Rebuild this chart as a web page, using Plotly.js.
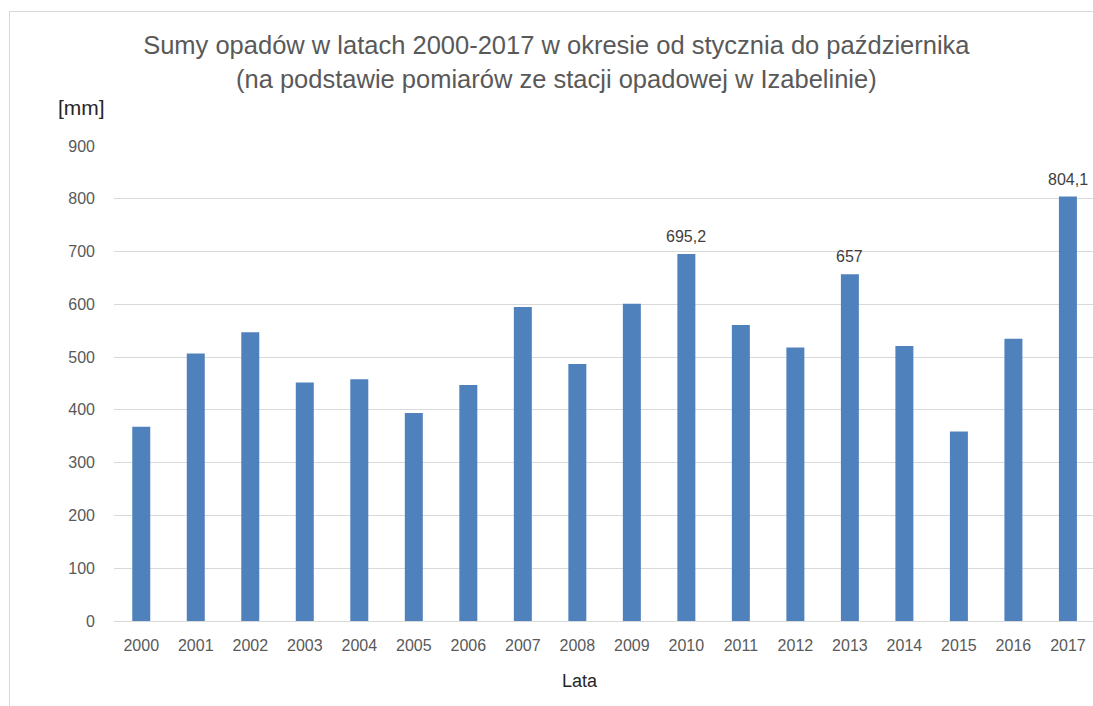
<!DOCTYPE html>
<html>
<head>
<meta charset="utf-8">
<script src="https://cdn.plot.ly/plotly-3.0.1.min.js"></script>
<style>
html,body{margin:0;padding:0;background:#fff;overflow:hidden;}
#chart{position:absolute;left:0;top:0;width:1093px;height:706px;}
#frame{position:absolute;left:9px;top:11px;width:1100px;height:720px;border-left:1px solid #d9d9d9;border-top:1px solid #d9d9d9;pointer-events:none;}
</style>
</head>
<body>
<div id="chart"></div>
<div id="frame"></div>
<script>
const years = ['2000','2001','2002','2003','2004','2005','2006','2007','2008','2009','2010','2011','2012','2013','2014','2015','2016','2017'];
const rainfall = [368, 507, 547, 452, 458, 394, 447, 595, 487, 601, 695.2, 561, 518, 657, 521, 359, 535, 804.1];
const valueLabels = ['', '', '', '', '', '', '', '', '', '', '695,2', '', '', '657', '', '', '', '804,1'];
const yTicks = [0, 100, 200, 300, 400, 500, 600, 700, 800, 900];

const FONT = 'Liberation Sans, Arial, sans-serif';

const trace = {
  type: 'bar',
  x: years,
  y: rainfall,
  marker: {color: '#4f81bd'},
  hoverinfo: 'x+y'
};

const labelAnnotations = [];
years.forEach((yr, i) => {
  if (valueLabels[i]) {
    labelAnnotations.push({
      text: valueLabels[i], x: i, y: rainfall[i], xref: 'x', yref: 'y',
      xanchor: 'center', yanchor: 'bottom', yshift: 7, showarrow: false,
      font: {family: FONT, size: 16, color: '#404040'}
    });
  }
});

const layout = {
  width: 1093,
  height: 706,
  margin: {l: 114, r: 0, t: 146, b: 85},
  paper_bgcolor: '#ffffff',
  plot_bgcolor: '#ffffff',
  bargap: 0.67,
  showlegend: false,
  font: {family: FONT, color: '#595959'},
  title: {
    text: 'Sumy opadów w latach 2000-2017 w okresie od stycznia do października<br>(na podstawie pomiarów ze stacji opadowej w Izabelinie)',
    font: {family: FONT, size: 25.5, color: '#595959'},
    x: 0.509, xref: 'container', xanchor: 'center',
    y: 0.923, yref: 'container', yanchor: 'middle'
  },
  xaxis: {
    type: 'category',
    range: [-0.5, 17.46],
    showgrid: false,
    showline: false,
    ticks: '',
    ticklabelstandoff: 13,
    tickfont: {family: FONT, size: 16, color: '#595959'},
    fixedrange: true
  },
  yaxis: {
    range: [0, 900],
    tickvals: yTicks,
    showgrid: true,
    gridcolor: '#d9d9d9',
    gridwidth: 1,
    zeroline: true,
    zerolinecolor: '#d9d9d9',
    zerolinewidth: 1,
    ticks: '',
    ticklabelstandoff: 18,
    tickfont: {family: FONT, size: 16, color: '#595959'},
    fixedrange: true
  },
  annotations: [
    {text: '[mm]', xref: 'paper', yref: 'paper', x: -0.0337, y: 1.082, xanchor: 'center', yanchor: 'middle', showarrow: false, font: {family: FONT, size: 21, color: '#262626'}},
    {text: 'Lata', xref: 'paper', yref: 'paper', x: 0.476, y: -0.127, xanchor: 'center', yanchor: 'middle', showarrow: false, font: {family: FONT, size: 18, color: '#262626'}}
  ].concat(labelAnnotations)
};

Plotly.newPlot('chart', [trace], layout, {displayModeBar: false, staticPlot: true});
</script>
</body>
</html>
